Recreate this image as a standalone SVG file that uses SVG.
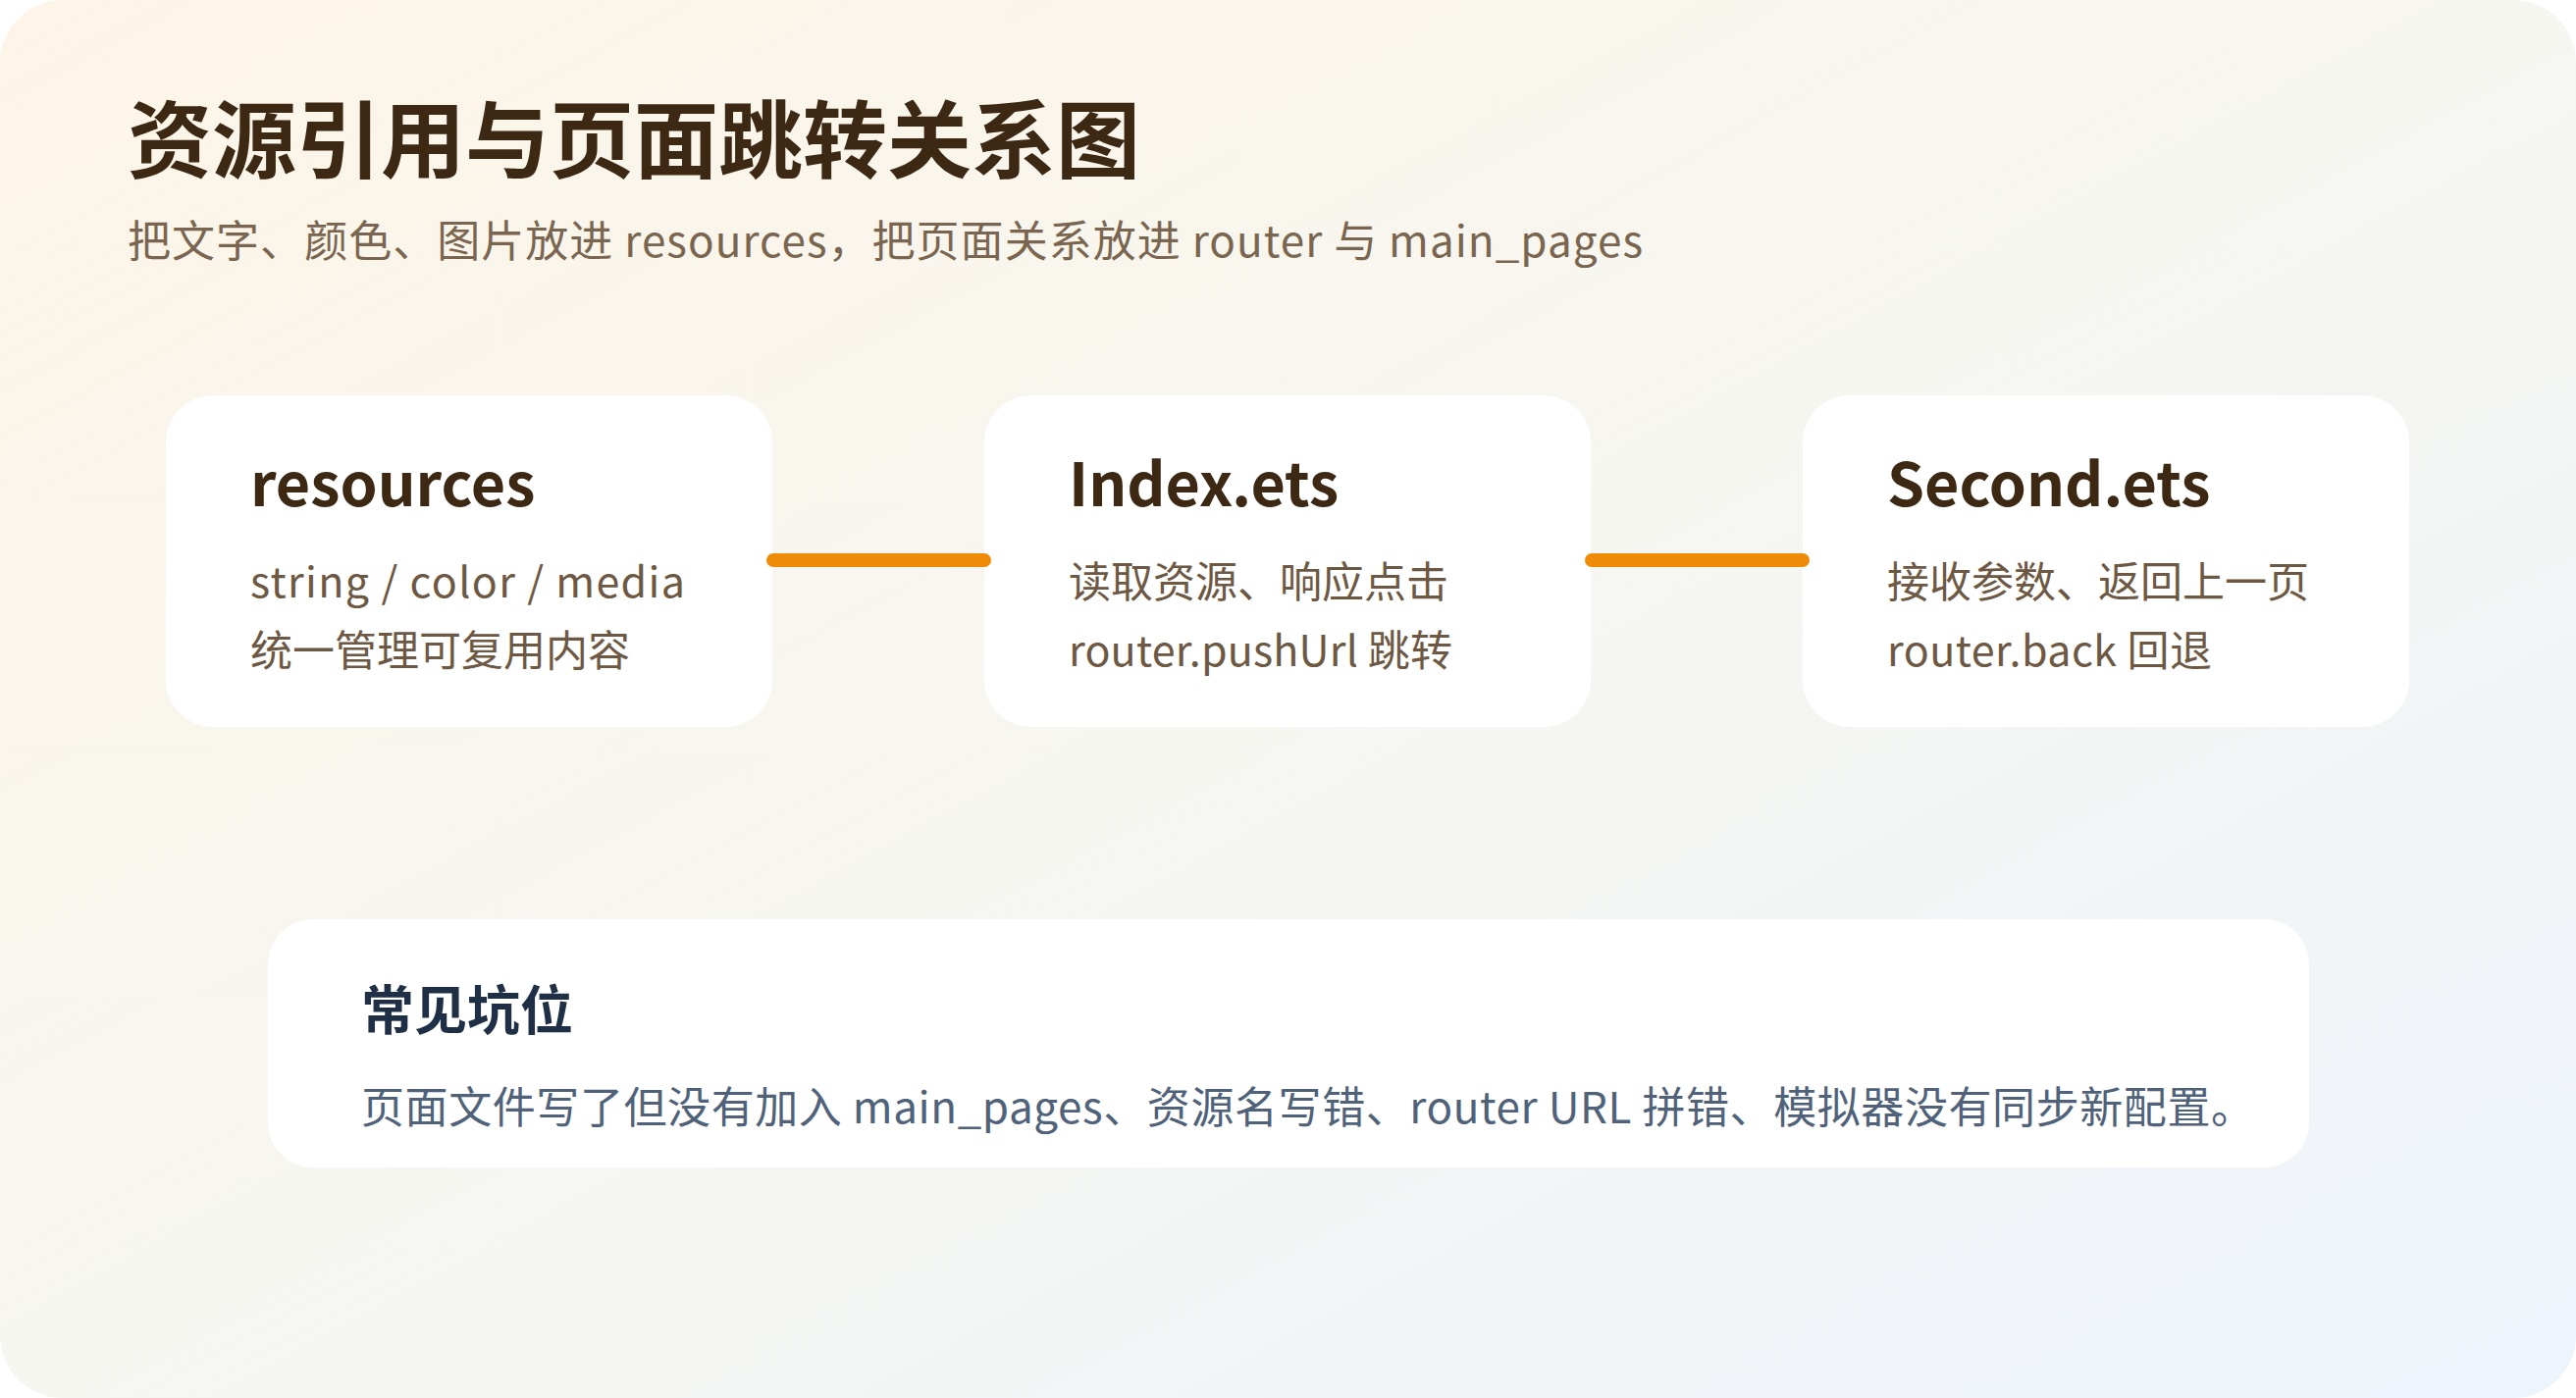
<svg xmlns="http://www.w3.org/2000/svg" width="2625" height="1425" viewBox="0 0 2625 1425">
  <defs>
    <linearGradient id="bg" x1="0" y1="0" x2="1" y2="1">
      <stop offset="0" stop-color="#fdf5e7"/>
      <stop offset="0.5" stop-color="#f6f6f1"/>
      <stop offset="1" stop-color="#eef4fc"/>
    </linearGradient>
    <style>
      .card { fill: #ffffff; }
      .ttl { font-family: "Noto Sans CJK SC", "Noto Sans", sans-serif; font-weight: 700; fill: #3d2913; }
      .body { font-family: "Noto Sans CJK SC", "Noto Sans", sans-serif; font-size: 43px; fill: #6d5843; }
      .link { stroke: #ee8c07; stroke-width: 14; stroke-linecap: round; fill: none; }
    </style>
  </defs>
  <rect x="0" y="0" width="2625" height="1425" fill="#ffffff"/>
  <rect x="0" y="0" width="2625" height="1425" rx="64" ry="64" fill="url(#bg)"/>

  <g id="header">
    <text x="130" y="175" class="ttl" font-size="86">资源引用与页面跳转关系图</text>
    <text x="130" y="262" font-family="Noto Sans CJK SC, Noto Sans, sans-serif" font-size="44" fill="#7a6650" textLength="1544" lengthAdjust="spacing">把文字、颜色、图片放进 resources，把页面关系放进 router 与 main_pages</text>
  </g>

  <g id="node-resources">
    <rect class="card" x="169" y="403" width="618" height="338" rx="48" ry="48"/>
    <text x="255" y="516" class="ttl" font-size="61">resources</text>
    <text x="255" y="609" class="body" textLength="443" lengthAdjust="spacing">string / color / media</text>
    <text x="255" y="679" class="body">统一管理可复用内容</text>
  </g>

  <g id="node-index">
    <rect class="card" x="1003" y="403" width="618" height="338" rx="48" ry="48"/>
    <text x="1089" y="516" class="ttl" font-size="61">Index.ets</text>
    <text x="1089" y="609" class="body">读取资源、响应点击</text>
    <text x="1089" y="679" class="body" textLength="391" lengthAdjust="spacing">router.pushUrl 跳转</text>
  </g>

  <g id="node-second">
    <rect class="card" x="1837" y="403" width="618" height="338" rx="48" ry="48"/>
    <text x="1923" y="516" class="ttl" font-size="61">Second.ets</text>
    <text x="1923" y="609" class="body">接收参数、返回上一页</text>
    <text x="1923" y="679" class="body" textLength="331" lengthAdjust="spacing">router.back 回退</text>
  </g>

  <g id="connectors">
    <line class="link" x1="788" y1="571" x2="1003" y2="571"/>
    <line class="link" x1="1622" y1="571" x2="1837" y2="571"/>
  </g>

  <g id="node-pitfalls">
    <rect class="card" x="273" y="937" width="2080" height="253" rx="46" ry="46"/>
    <text x="368" y="1050" font-family="Noto Sans CJK SC, Noto Sans, sans-serif" font-weight="700" font-size="54" fill="#1f2f45">常见坑位</text>
    <text x="368" y="1145" font-family="Noto Sans CJK SC, Noto Sans, sans-serif" font-size="44" fill="#4f6279" textLength="1929" lengthAdjust="spacing">页面文件写了但没有加入 main_pages、资源名写错、router URL 拼错、模拟器没有同步新配置。</text>
  </g>
</svg>
